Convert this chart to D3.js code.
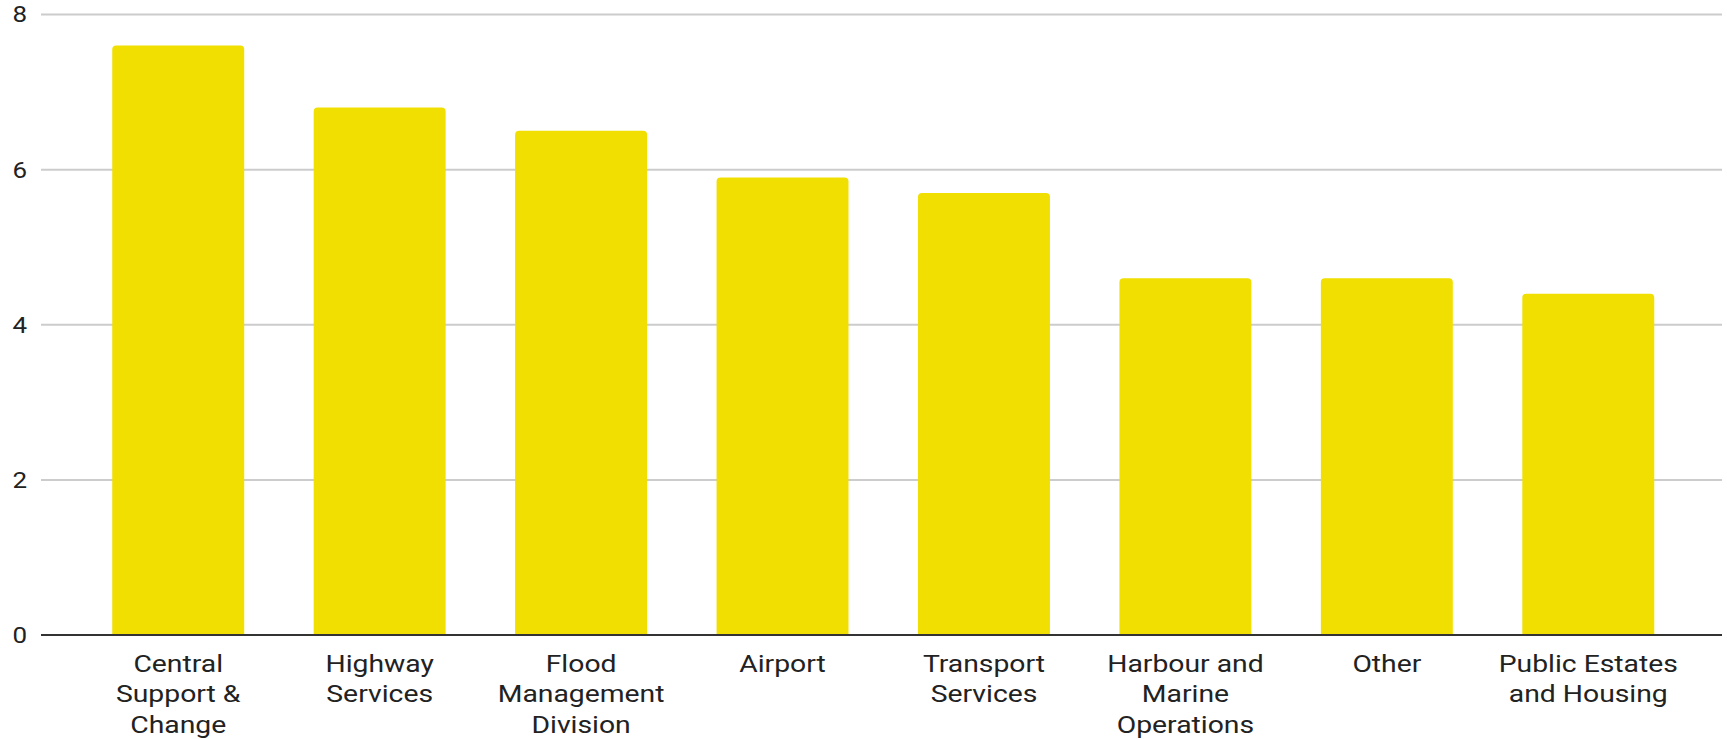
<!DOCTYPE html>
<html>
<head>
<meta charset="utf-8">
<script src="https://cdn.jsdelivr.net/npm/d3@7"></script>
<style>
  body { margin: 0; background: #fff; }
  svg text { font-family: Roboto, "Noto Sans", sans-serif; fill: #222; }
</style>
</head>
<body>
<svg id="chart"></svg>
<script>
// Chart data
const categories = [
  'Central Support & Change',
  'Highway Services',
  'Flood Management Division',
  'Airport',
  'Transport Services',
  'Harbour and Marine Operations',
  'Other',
  'Public Estates and Housing'
];
const values = [7.6, 6.8, 6.5, 5.9, 5.7, 4.6, 4.6, 4.4];
const yTicks = [0, 2, 4, 6, 8];

const width = 1727;
const height = 739;
const stretch = 1.18; // text in the source is a bit wider than tall

const svg = d3.select('#chart')
  .attr('width', width)
  .attr('height', height);

// Scales
const x = d3.scaleBand()
  .domain(categories)
  .range([77.5, 1689])
  .paddingInner(0.345)
  .paddingOuter(0.1725);

const y = d3.scaleLinear()
  .domain([0, 8])
  .range([635, 14.5]);

const gridLeft = 41;
const gridRight = 1722;

// Gridlines
svg.append('g')
  .selectAll('line')
  .data(yTicks.filter(d => d !== 0))
  .enter().append('line')
    .attr('x1', gridLeft)
    .attr('x2', gridRight)
    .attr('y1', d => y(d))
    .attr('y2', d => y(d))
    .attr('stroke', '#cccccc')
    .attr('stroke-width', 2);

// Y tick labels
svg.append('g')
  .selectAll('text')
  .data(yTicks)
  .enter().append('text')
    .attr('transform', d => `translate(27,${y(d)}) scale(${stretch},1)`)
    .attr('dy', '0.36em')
    .attr('text-anchor', 'end')
    .style('font-size', '22px')
    .text(d => d);

// Bars with rounded tops
const r = 4;
svg.append('g')
  .selectAll('path')
  .data(values)
  .enter().append('path')
    .attr('fill', '#f0df00')
    .attr('d', (d, i) => {
      const x0 = x(categories[i]);
      const x1 = x0 + x.bandwidth();
      const y0 = y(0);
      const y1 = y(d);
      return `M${x0},${y0}V${y1 + r}Q${x0},${y1} ${x0 + r},${y1}` +
        `H${x1 - r}Q${x1},${y1} ${x1},${y1 + r}V${y0}Z`;
    });

// Baseline
svg.append('line')
  .attr('x1', gridLeft)
  .attr('x2', gridRight)
  .attr('y1', y(0))
  .attr('y2', y(0))
  .attr('stroke', '#333333')
  .attr('stroke-width', 2);

// Category labels, wrapped to fit under each bar
const fontSize = 24;
const maxLabelWidth = 186;
const labels = svg.append('g')
  .selectAll('g')
  .data(categories)
  .enter().append('g')
    .attr('transform', d => `translate(${x(d) + x.bandwidth() / 2},672) scale(${stretch},1)`);

labels.each(function(d) {
  const g = d3.select(this);
  const words = d.split(' ');
  let lines = [];
  let current = [];
  const probe = g.append('text').style('font-size', fontSize + 'px');
  words.forEach(w => {
    const test = current.concat(w).join(' ');
    probe.text(test);
    if (current.length && probe.node().getComputedTextLength() * stretch > maxLabelWidth) {
      lines.push(current.join(' '));
      current = [w];
    } else {
      current.push(w);
    }
  });
  lines.push(current.join(' '));
  probe.remove();

  g.selectAll('text')
    .data(lines)
    .enter().append('text')
      .attr('y', (l, i) => i * 30.5)
      .attr('text-anchor', 'middle')
      .style('font-size', fontSize + 'px')
      .text(l => l);
});
</script>
</body>
</html>
